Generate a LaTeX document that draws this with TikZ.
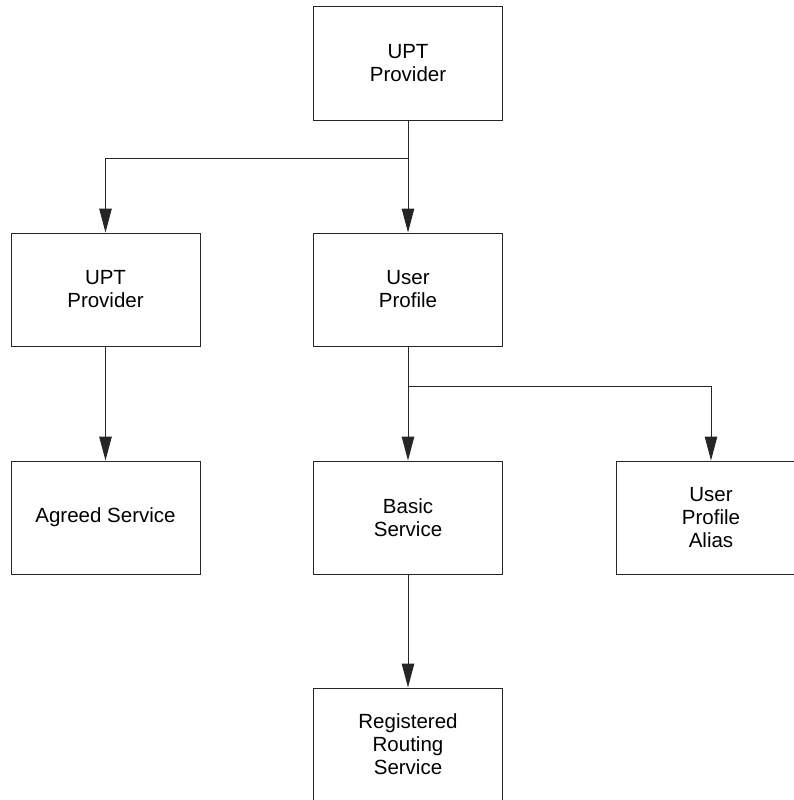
\documentclass[tikz,border=0pt]{standalone}
\usepackage{fontspec}
\setmainfont{Liberation Sans}
\usetikzlibrary{arrows.meta}
\begin{document}
\begin{tikzpicture}[x=1pt,y=-1pt,
  box/.style={draw=black!85,line width=1pt,minimum width=189pt,minimum height=113pt,
    inner sep=0pt,align=center,font=\fontsize{20.5pt}{23pt}\selectfont},
  conn/.style={draw=black!85,line width=1pt},
  arr/.style={conn,-{Triangle[length=24pt,width=12.5pt]}}]
\useasboundingbox (0,0) rectangle (794,800);
\clip (0,0) rectangle (794,800);
\node[box] (top) at (408,63.5) {UPT\\Provider};
\node[box] (prov) at (105.5,289.5) {UPT\\Provider};
\node[box] (prof) at (408,289.5) {User\\Profile};
\node[box] (agreed) at (105.5,517.5) {Agreed Service};
\node[box] (basic) at (408,517.5) {Basic\\Service};
\node[box] (alias) at (711,517.5) {User\\Profile\\Alias};
\node[box] (reg) at (408,744.5) {Registered\\Routing\\Service};
\coordinate (j1) at (408,158);
\coordinate (j2) at (408,386);
\draw[conn] (top.south) -- (j1);
\draw[arr] (j1) -- (prof.north);
\draw[arr] (j1) -| (prov.north);
\draw[arr] (prov.south) -- (agreed.north);
\draw[conn] (prof.south) -- (j2);
\draw[arr] (j2) -- (basic.north);
\draw[arr] (j2) -| (alias.north);
\draw[arr] (basic.south) -- (reg.north);
\end{tikzpicture}
\end{document}
